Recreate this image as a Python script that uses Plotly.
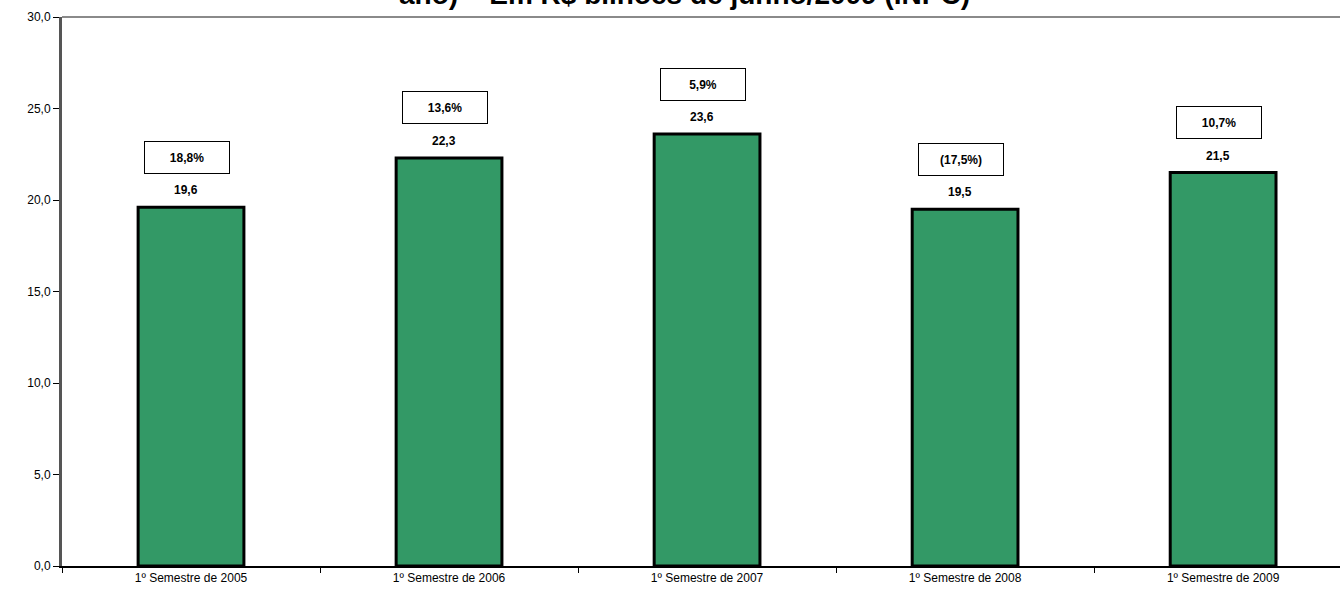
import plotly.graph_objects as go

categories = ["1º Semestre de 2005", "1º Semestre de 2006", "1º Semestre de 2007",
              "1º Semestre de 2008", "1º Semestre de 2009"]
values = [19.6, 22.3, 23.6, 19.5, 21.5]
growth_labels = ["18,8%", "13,6%", "5,9%", "(17,5%)", "10,7%"]
title_text = "ano) – Em R$ bilhões de junho/2009 (INPC)"

FONT = "Arial, Liberation Sans, sans-serif"

fig = go.Figure()
fig.add_trace(go.Bar(
    x=categories, y=values,
    width=0.41,
    marker=dict(color="#339966", line=dict(color="#000000", width=3)),
    hoverinfo="skip",
))

# value labels
for c, v in zip(categories, values):
    fig.add_annotation(x=c, y=v, xref="x", yref="y", text="<b>" + f"{v:.1f}".replace(".", ",") + "</b>",
                       showarrow=False, yanchor="middle", yshift=17, xshift=-5,
                       font=dict(family=FONT, size=12, color="#000000"))
# growth boxes
for c, v, g in zip(categories, values, growth_labels):
    fig.add_annotation(x=c, y=v, xref="x", yref="y", text="<b>" + g + "</b>",
                       showarrow=False, yanchor="middle", yshift=50, xshift=-4,
                       width=82, height=29, borderpad=1,
                       bordercolor="#000000", borderwidth=1, bgcolor="#ffffff",
                       font=dict(family=FONT, size=12, color="#000000"))

# title (cut off at top, as in the source)
fig.add_annotation(x=0.4867, y=1, xref="paper", yref="paper", text="<b>" + title_text + "</b>",
                   showarrow=False, xanchor="center", yanchor="bottom", yshift=5,
                   font=dict(family=FONT, size=28, color="#000000"))

# top border line
fig.add_shape(type="line", xref="paper", yref="paper", x0=0, x1=1, y0=1, y1=1,
              line=dict(color="#8a8a8a", width=2))

fig.update_layout(
    width=1340, height=592,
    margin=dict(l=62, r=0, t=17, b=26),
    plot_bgcolor="#ffffff", paper_bgcolor="#ffffff",
    separators=",.",
    showlegend=False,
    font=dict(family=FONT, size=12, color="#000000"),
    xaxis=dict(
        type="category", range=[-0.5, 4.453],
        showgrid=False, zeroline=False,
        showline=True, linecolor="#000000", linewidth=2,
        ticks="outside", tickson="boundaries", ticklen=5, tickcolor="#000000", tickwidth=1,
        tickfont=dict(family=FONT, size=12, color="#000000"),
    ),
    yaxis=dict(
        range=[0, 30], dtick=5, tickformat=".1f",
        showgrid=False, zeroline=False,
        showline=True, linecolor="#555555", linewidth=3,
        ticks="outside", ticklen=6, tickcolor="#000000", tickwidth=1,
        tickfont=dict(family=FONT, size=12, color="#000000"),
    ),
)

fig.write_html("out.html", config={"displayModeBar": False},
               post_script="document.body.style.margin='0';document.body.style.overflow='hidden';")
